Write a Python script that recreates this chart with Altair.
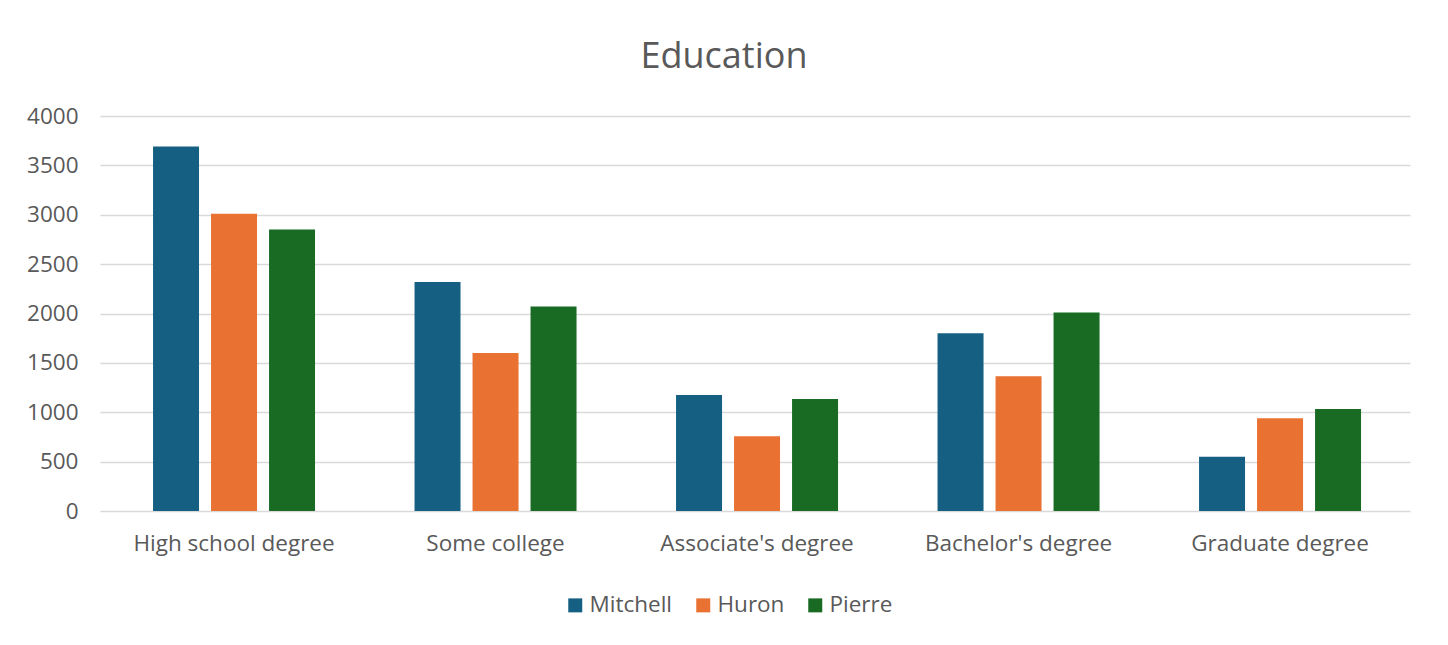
import altair as alt
import pandas as pd

categories = ["High school degree", "Some college", "Associate's degree", "Bachelor's degree", "Graduate degree"]
series = ["Mitchell", "Huron", "Pierre"]
mitchell = [3690, 2320, 1175, 1800, 550]
huron = [3010, 1600, 756, 1365, 939]
pierre = [2850, 2070, 1135, 2010, 1034]
colors = ["#156082", "#E97132", "#196B24"]

rows = []
for name, vals in zip(series, [mitchell, huron, pierre]):
    for c, v in zip(categories, vals):
        rows.append({"category": c, "series": name, "value": v})
df = pd.DataFrame(rows)

FONT = "Open Sans"
TXT = "#595959"
FS = 22.5

chart = alt.Chart(df).mark_bar().encode(
    x=alt.X("category:N", sort=categories, title=None,
            scale=alt.Scale(paddingInner=0.3805, paddingOuter=0.195, align=0.52),
            axis=alt.Axis(labelAngle=0, labelFontSize=FS, labelColor=TXT, labelFont=FONT,
                          labelPadding=21, labelLimit=500, ticks=False, domain=False, grid=False)),
    xOffset=alt.XOffset("series:N", sort=series, scale=alt.Scale(paddingInner=0.207, paddingOuter=0)),
    y=alt.Y("value:Q", title=None,
            scale=alt.Scale(domain=[0, 4000]),
            axis=alt.Axis(values=[0, 500, 1000, 1500, 2000, 2500, 3000, 3500, 4000], format="d",
                          labelFontSize=FS, labelColor=TXT, labelFont=FONT, labelPadding=22,
                          ticks=False, domain=False, gridColor="#d9d9d9", gridWidth=1.5)),
    color=alt.Color("series:N", sort=series, scale=alt.Scale(domain=series, range=colors),
                    legend=alt.Legend(title=None, orient="none", direction="horizontal",
                                      legendX=464, legendY=478, symbolType="square", symbolSize=196,
                                      symbolStrokeWidth=0, labelFontSize=FS, labelColor=TXT, labelFont=FONT,
                                      columnPadding=19, labelOffset=3, labelLimit=300)),
).properties(
    width=1310, height=395,
    title=alt.TitleParams("Education", fontSize=36, font=FONT, color=TXT, fontWeight="normal",
                          anchor="middle", frame="group", dx=-31, offset=29),
    autosize=alt.AutoSizeParams(type="none"),
    padding={"left": 92, "top": 108, "right": 30, "bottom": 126},
).configure(background="white").configure_view(stroke=None, strokeWidth=0)

chart.save("out.html", embed_options={"renderer": "svg", "actions": False})
